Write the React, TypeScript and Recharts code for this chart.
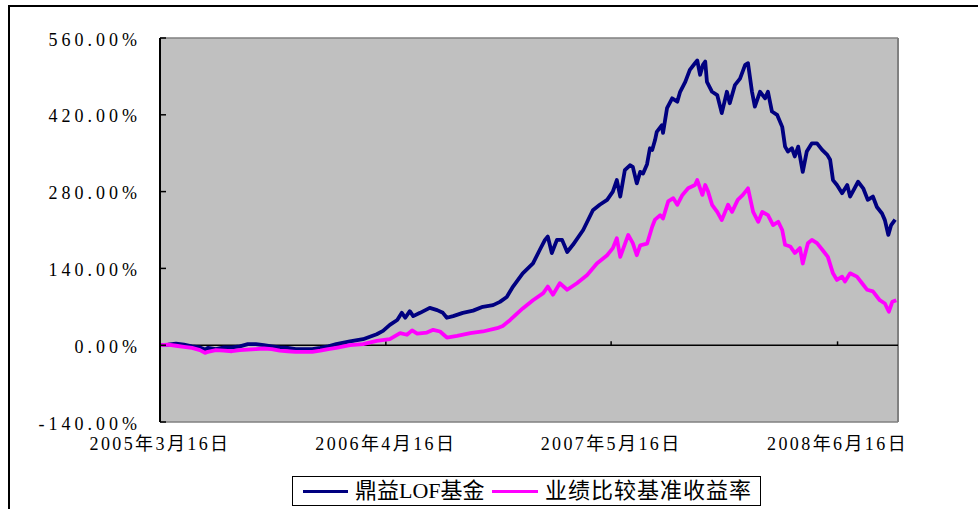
import React from 'react';
import { LineChart, Line, XAxis, YAxis, CartesianGrid, ReferenceLine } from 'recharts';

// Series names and colours
const seriesNames = ['鼎益LOF基金', '业绩比较基准收益率'];
const seriesColors = ['#000080', '#FF00FF'];

// X axis: days since 2005-03-16
const xDomainEnd = 1294;
const xTickDays = [0, 396, 791, 1188];
const xTickLabels = ['2005年3月16日', '2006年4月16日', '2007年5月16日', '2008年6月16日'];

// Y axis (%)
const yTicks = [-140, 0, 140, 280, 420, 560];
const yTickLabels = ['-140.00%', '0.00%', '140.00%', '280.00%', '420.00%', '560.00%'];

// 鼎益LOF基金 cumulative return (%)
const fundDays = [
  0, 14, 28, 42, 56, 70, 79, 84, 98, 112, 126, 140, 154, 168, 182, 196, 210, 224, 238, 252,
  267, 281, 295, 309, 333, 356, 380, 391, 403, 416, 424, 430, 438, 444, 456, 473, 486, 496, 503, 514,
  531, 549, 566, 584, 596, 608, 619, 636, 654, 666, 675, 680, 687, 696, 705, 714, 724, 742, 759, 771,
  784, 794, 801, 807, 815, 824, 829, 836, 842, 847, 854, 859, 863, 868, 871, 880, 882, 889, 898, 907,
  912, 921, 929, 938, 942, 947, 952, 956, 959, 968, 977, 985, 994, 999, 1008, 1017, 1026, 1031, 1038, 1043,
  1052, 1061, 1066, 1073, 1082, 1091, 1096, 1101, 1108, 1113, 1119, 1127, 1134, 1143, 1152, 1161, 1170, 1175, 1180, 1187,
  1196, 1205, 1210, 1224, 1233, 1241, 1250, 1257, 1266, 1271, 1277, 1282, 1289,
];
const fundValues = [
  0, 1, 3, 1, -2, -4, -8, -5, -7, -4, -4, -2, 2, 2, 0, -2, -4, -5, -7, -7,
  -7, -5, -2, 2, 7, 11, 20, 26, 37, 46, 59, 50, 62, 53, 59, 68, 64, 59, 50, 53,
  59, 63, 70, 73, 79, 88, 107, 131, 149, 174, 192, 198, 168, 192, 192, 170, 183, 210, 246, 256,
  265, 280, 301, 271, 319, 328, 325, 295, 316, 313, 330, 359, 356, 374, 389, 401, 387, 432, 450, 444,
  462, 480, 502, 514, 519, 493, 511, 517, 480, 462, 456, 423, 462, 441, 474, 486, 511, 514, 462, 435,
  462, 450, 462, 426, 420, 398, 362, 353, 359, 344, 362, 316, 353, 368, 368, 356, 347, 338, 301, 292,
  277, 292, 271, 298, 286, 265, 271, 252, 240, 228, 201, 219, 229,
];

// 业绩比较基准收益率 (%)
const benchDays = [
  0, 14, 28, 42, 56, 70, 79, 84, 98, 112, 126, 140, 154, 168, 182, 196, 210, 224, 238, 252,
  267, 281, 295, 309, 333, 356, 380, 403, 421, 433, 442, 451, 468, 479, 491, 503, 521, 544, 566, 591,
  601, 614, 636, 654, 672, 680, 689, 701, 714, 731, 749, 766, 784, 794, 801, 807, 821, 829, 836, 842,
  854, 863, 868, 877, 882, 891, 900, 907, 916, 926, 938, 942, 951, 956, 961, 968, 977, 985, 996, 1003,
  1013, 1022, 1031, 1040, 1049, 1056, 1066, 1075, 1084, 1091, 1096, 1105, 1113, 1122, 1127, 1136, 1143, 1152, 1162, 1171,
  1180, 1187, 1196, 1201, 1210, 1222, 1231, 1240, 1250, 1262, 1271, 1278, 1284, 1291,
];
const benchValues = [
  0, 1, -1, -3, -5, -9, -14, -12, -9, -10, -11, -9, -8, -7, -6, -7, -10, -11, -12, -12,
  -12, -10, -7, -5, 0, 2, 8, 11, 22, 19, 27, 21, 23, 28, 25, 14, 17, 22, 25, 31,
  35, 46, 67, 82, 95, 107, 92, 113, 101, 113, 128, 149, 164, 177, 195, 161, 201, 186, 164, 182,
  185, 216, 229, 237, 231, 262, 268, 256, 274, 286, 292, 301, 274, 292, 280, 256, 243, 228, 256, 243,
  265, 274, 286, 243, 225, 243, 237, 219, 225, 210, 183, 180, 168, 177, 149, 186, 192, 186, 173, 161,
  131, 119, 125, 116, 131, 125, 113, 101, 98, 82, 76, 61, 79, 82,
];

const fundData = fundDays.map((d, i) => ({ d, v: fundValues[i] }));
const benchData = benchDays.map((d, i) => ({ d, v: benchValues[i] }));

const fontFamily = "'Liberation Serif', 'Noto Sans CJK SC', serif";

const YTick = (props: any) => {
  const { x, y, payload } = props;
  const idx = yTicks.indexOf(payload.value);
  return (
    <g>
      <line x1={x + 22} x2={x + 28} y1={y} y2={y} stroke="#000" strokeWidth={1.5} />
      <text x={x + 3} y={y} dy={7.5} textAnchor="end" fill="#000" style={{ fontFamily, fontSize: 18, letterSpacing: 4 }}>
        {yTickLabels[idx]}
      </text>
    </g>
  );
};

const XTick = (props: any) => {
  const { x, y, payload } = props;
  const idx = xTickDays.indexOf(payload.value);
  return (
    <text x={x} y={y} dy={28} textAnchor="middle" fill="#000" style={{ fontFamily, fontSize: 18, letterSpacing: 2.4 }}>
      {xTickLabels[idx]}
    </text>
  );
};

export default function App() {
  return (
    <div style={{ position: 'absolute', left: 0, top: 0, width: 978, height: 509, overflow: 'hidden', background: '#fff' }}>
      <div style={{ position: 'absolute', left: 8, top: 5, width: 1100, height: 700, borderTop: '2px solid #000', borderLeft: '2px solid #000' }} />
      <div style={{ position: 'absolute', left: 0, top: 0 }}>
        <LineChart width={978} height={509} margin={{ top: 38, right: 80, bottom: 0, left: 0 }}>
          <CartesianGrid horizontal={false} vertical={false} fill="#C0C0C0" />
          <XAxis
            type="number"
            dataKey="d"
            domain={[0, xDomainEnd]}
            ticks={xTickDays}
            interval={0}
            allowDataOverflow
            height={87}
            axisLine={false}
            tickLine={false}
            tickSize={0}
            tickMargin={0}
            tick={<XTick />}
          />
          <YAxis
            type="number"
            domain={[-140, 560]}
            ticks={yTicks}
            interval={0}
            allowDataOverflow
            width={160}
            tickSize={0}
            tickMargin={22}
            tickLine={false}
            axisLine={{ stroke: '#000', strokeWidth: 2 }}
            tick={<YTick />}
          />
          <ReferenceLine y={560} stroke="#808080" strokeWidth={1.5} />
          <ReferenceLine y={-140} stroke="#808080" strokeWidth={1.5} />
          <ReferenceLine x={xDomainEnd} stroke="#808080" strokeWidth={2} />
          <ReferenceLine y={0} stroke="#000" strokeWidth={1.5} />
          {xTickDays.slice(1).map((t) => (
            <ReferenceLine key={t} segment={[{ x: t, y: 0 }, { x: t, y: 7 }]} stroke="#000" strokeWidth={1.5} />
          ))}
          <Line data={fundData} dataKey="v" name={seriesNames[0]} type="linear" stroke={seriesColors[0]} strokeWidth={3.8} dot={false} isAnimationActive={false} strokeLinejoin="round" />
          <Line data={benchData} dataKey="v" name={seriesNames[1]} type="linear" stroke={seriesColors[1]} strokeWidth={3.8} dot={false} isAnimationActive={false} strokeLinejoin="round" />
        </LineChart>
      </div>
      <div style={{ position: 'absolute', left: 292, top: 476, width: 467, height: 28, border: '1.5px solid #000', background: '#fff' }}>
        <div style={{ position: 'absolute', left: 10, top: 13, width: 45, height: 3, background: seriesColors[0] }} />
        <div style={{ position: 'absolute', left: 62, top: 0, height: 28, lineHeight: '28px', fontFamily, fontSize: 22, whiteSpace: 'nowrap', color: '#000' }}>{seriesNames[0]}</div>
        <div style={{ position: 'absolute', left: 199, top: 13, width: 46, height: 3, background: seriesColors[1] }} />
        <div style={{ position: 'absolute', left: 252, top: 0, height: 28, lineHeight: '28px', fontFamily, fontSize: 22, letterSpacing: 1, whiteSpace: 'nowrap', color: '#000' }}>{seriesNames[1]}</div>
      </div>
    </div>
  );
}
